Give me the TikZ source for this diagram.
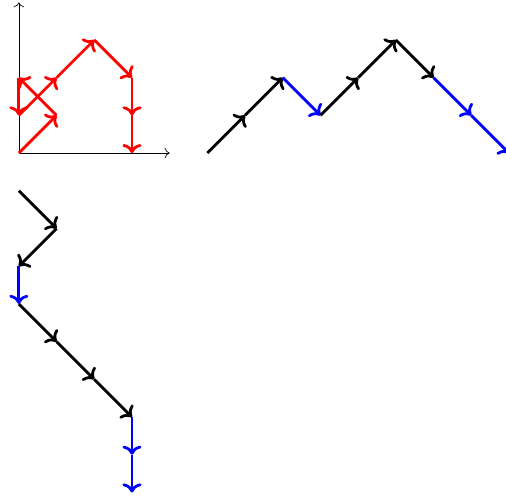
\documentclass[tikz,border=0pt]{standalone}
\usetikzlibrary{arrows.meta}
\begin{document}
\begin{tikzpicture}[x=1cm,y=1cm,
  axisline/.style={-{To[scale=1.4]}, line width=0.5pt},
  stepline/.style={-{To[scale=1.1]}, line width=2.1pt},
  redstep/.style={stepline, red},
  blackstep/.style={stepline, black},
  bluestep/.style={stepline, blue}]
\useasboundingbox (-0.5,-9.18) rectangle (12.92,4.06);
% axes
\coordinate (O) at (0,0);
\coordinate (X) at (4,0);
\coordinate (Y) at (0,4);
\draw[axisline] (O) -- (X);
\draw[axisline] (O) -- (Y);
% red path
\coordinate (r0) at (0,0);
\coordinate (r1) at (1,1);
\coordinate (r2) at (0,2);
\coordinate (r3) at (0,1);
\coordinate (r4) at (1,2);
\coordinate (r5) at (2,3);
\coordinate (r6) at (3,2);
\coordinate (r7) at (3,1);
\coordinate (r8) at (3,0);
\draw[redstep] (r0) -- (r1);
\draw[redstep] (r1) -- (r2);
\draw[redstep] (r2) -- (r3);
\draw[redstep] (r3) -- (r4);
\draw[redstep] (r4) -- (r5);
\draw[redstep] (r5) -- (r6);
\draw[redstep] (r6) -- (r7);
\draw[redstep] (r7) -- (r8);
% top right path
\coordinate (t0) at (5,0);
\coordinate (t1) at (6,1);
\coordinate (t2) at (7,2);
\coordinate (t3) at (8,1);
\coordinate (t4) at (9,2);
\coordinate (t5) at (10,3);
\coordinate (t6) at (11,2);
\coordinate (t7) at (12,1);
\coordinate (t8) at (13,0);
\draw[blackstep] (t0) -- (t1);
\draw[blackstep] (t1) -- (t2);
\draw[bluestep] (t2) -- (t3);
\draw[blackstep] (t3) -- (t4);
\draw[blackstep] (t4) -- (t5);
\draw[blackstep] (t5) -- (t6);
\draw[bluestep] (t6) -- (t7);
\draw[bluestep] (t7) -- (t8);
% bottom path
\coordinate (b0) at (0,-1);
\coordinate (b1) at (1,-2);
\coordinate (b2) at (0,-3);
\coordinate (b3) at (0,-4);
\coordinate (b4) at (1,-5);
\coordinate (b5) at (2,-6);
\coordinate (b6) at (3,-7);
\coordinate (b7) at (3,-8);
\coordinate (b8) at (3,-9);
\draw[blackstep] (b0) -- (b1);
\draw[blackstep] (b1) -- (b2);
\draw[bluestep] (b2) -- (b3);
\draw[blackstep] (b3) -- (b4);
\draw[blackstep] (b4) -- (b5);
\draw[blackstep] (b5) -- (b6);
\draw[bluestep] (b6) -- (b7);
\draw[bluestep] (b7) -- (b8);
\end{tikzpicture}
\end{document}
